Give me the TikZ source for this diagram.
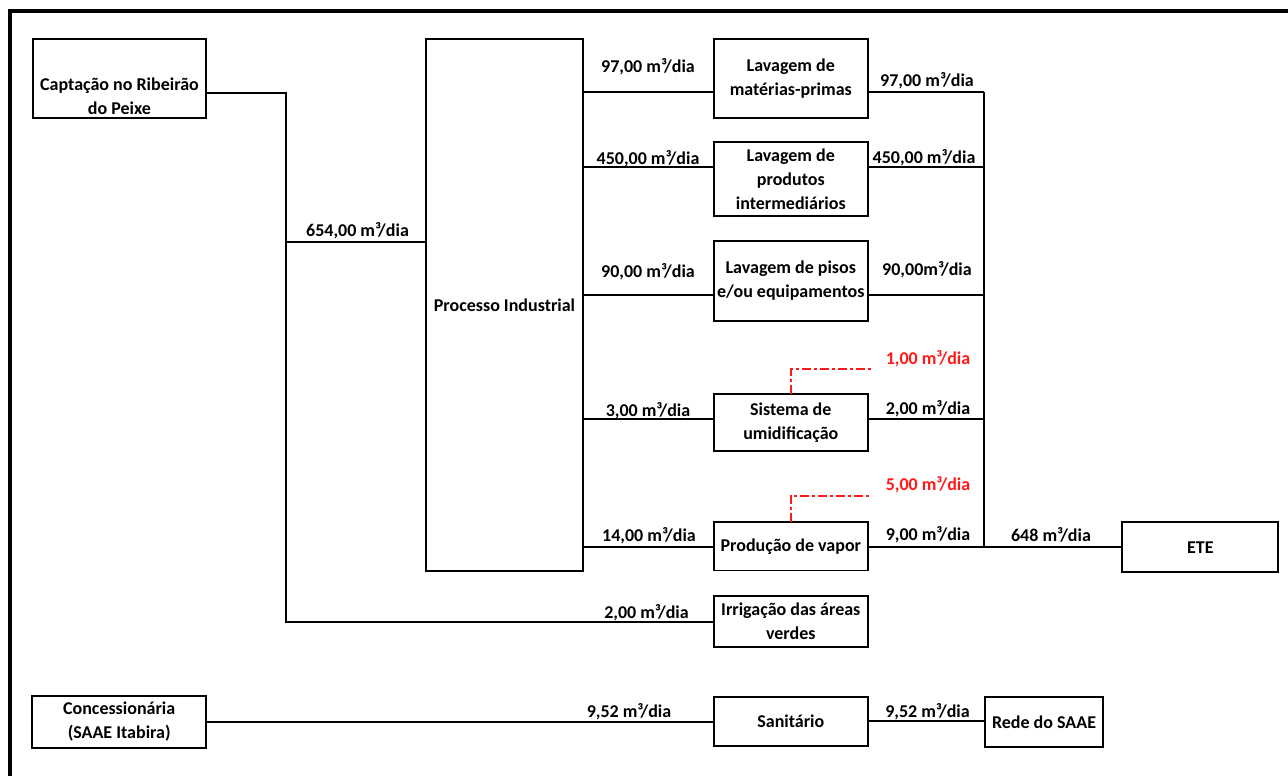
\documentclass[tikz,border=0pt]{standalone}
\usepackage{fontspec}
\setmainfont{Carlito}
\begin{document}
\begin{tikzpicture}[x=1pt,y=-1pt,
  box/.style={draw=black, line width=1.9pt, rectangle, inner sep=0pt, outer sep=0pt, align=center, font=\bfseries\fontsize{18}{24}\selectfont},
  flow/.style={font=\bfseries\fontsize{18}{20}\selectfont, anchor=base, inner sep=0pt},
  redflow/.style={flow, text={rgb,255:red,255;green,25;blue,25}},
  conn/.style={draw=black, line width=1.9pt},
  reddash/.style={draw={rgb,255:red,255;green,25;blue,25}, line width=1.9pt, dash pattern=on 9pt off 3pt on 3pt off 3pt}]
\useasboundingbox (0,0) rectangle (1288,776);
% frame
\draw[line width=4pt] (9.7,776) -- (9.7,11.3) -- (1288,11.3);
% boxes
\node[box, minimum width=173, minimum height=79] (capt) at (119.5,78.8) {};
\node[box, draw=none] (captt) at (119.5,96.5) {Captação no Ribeirão\\do Peixe};
\node[box, minimum width=157, minimum height=532] (proc) at (504.5,305.2) {Processo Industrial};
\node[box, minimum width=154.5, minimum height=78.4] (lav1) at (790.8,78.5) {Lavagem de\\matérias-primas};
\node[box, minimum width=154.5, minimum height=73.4] (lav2) at (790.8,179) {Lavagem de\\produtos\\intermediários};
\node[box, minimum width=154.5, minimum height=80.3] (lav3) at (790.8,280.8) {Lavagem de pisos\\e/ou equipamentos};
\node[box, minimum width=154.5, minimum height=56.7] (sist) at (790.8,422.7) {Sistema de\\umidificação};
\node[box, minimum width=154.5, minimum height=48.2] (vapor) at (790.8,546.4) {Produção de vapor};
\node[box, minimum width=154.5, minimum height=51.3] (irrig) at (790.8,621.7) {Irrigação das áreas\\verdes};
\node[box, minimum width=156, minimum height=49.7] (ete) at (1200.3,547.2) {ETE};
\node[box, minimum width=173.7, minimum height=52] (conc) at (119.2,722) {Concessionária\\(SAAE Itabira)};
\node[box, minimum width=154.5, minimum height=49.5] (sanit) at (790.8,721.3) {Sanitário};
\node[box, minimum width=118, minimum height=50] (rede) at (1044,722) {Rede do SAAE};
% row coordinates
\coordinate (r1) at (0,92.3);
\coordinate (r2) at (0,167);
\coordinate (r3) at (0,295);
\coordinate (r4) at (0,419.3);
\coordinate (r5) at (0,546.7);
\coordinate (j1) at (286,242);
\coordinate (col) at (984,0);
\coordinate (e1) at (870.7,369.3);
\coordinate (e2) at (870.7,495.7);
% source connectors
\draw[conn] ([yshift=-14pt]capt.east) -| (j1) |- (irrig.west);
\draw[conn] (j1) -- (j1 -| proc.west);
% process outputs
\draw[conn] (proc.east |- r1) -- (lav1.west |- r1);
\draw[conn] (proc.east |- r2) -- (lav2.west |- r2);
\draw[conn] (proc.east |- r3) -- (lav3.west |- r3);
\draw[conn] (proc.east |- r4) -- (sist.west |- r4);
\draw[conn] (proc.east |- r5) -- (vapor.west |- r5);
% to collector
\draw[conn] (lav1.east |- r1) -- (col |- r1);
\draw[conn] (lav2.east |- r2) -- (col |- r2);
\draw[conn] (lav3.east |- r3) -- (col |- r3);
\draw[conn] (sist.east |- r4) -- (col |- r4);
\draw[conn] (vapor.east |- r5) -- (col |- r5);
\draw[conn] (col |- r1) -- (col |- r5) -- (ete.west |- r5);
% losses
\draw[reddash] (sist.north) |- (e1);
\draw[reddash] (vapor.north) |- (e2);
% sanitary
\draw[conn] (conc.east) -- (sanit.west |- conc.east);
\draw[conn] (sanit.east) -- (rede.west |- sanit.east);
% labels
\node[flow] (f654) at (357.5,236) {654,00 m³/dia};
\node[flow] (f97a) at (648,73) {97,00 m³/dia};
\node[flow] (f450a) at (648,164) {450,00 m³/dia};
\node[flow] (f90a) at (648,277.5) {90,00 m³/dia};
\node[flow] (f3) at (648,416) {3,00 m³/dia};
\node[flow] (f14) at (649,541.5) {14,00 m³/dia};
\node[flow] (f2i) at (646.5,618) {2,00 m³/dia};
\node[flow] (f952a) at (629,717.7) {9,52 m³/dia};
\node[flow] (f97b) at (927,86.5) {97,00 m³/dia};
\node[flow] (f450b) at (924,163.5) {450,00 m³/dia};
\node[flow] (f90b) at (927,275.5) {90,00m³/dia};
\node[redflow] (f1) at (928,364) {1,00 m³/dia};
\node[flow] (f2) at (928,414) {2,00 m³/dia};
\node[redflow] (f5) at (928,490) {5,00 m³/dia};
\node[flow] (f9) at (928,540) {9,00 m³/dia};
\node[flow] (f648) at (1051,541.5) {648 m³/dia};
\node[flow] (f952b) at (927.5,717.7) {9,52 m³/dia};
\end{tikzpicture}
\end{document}
